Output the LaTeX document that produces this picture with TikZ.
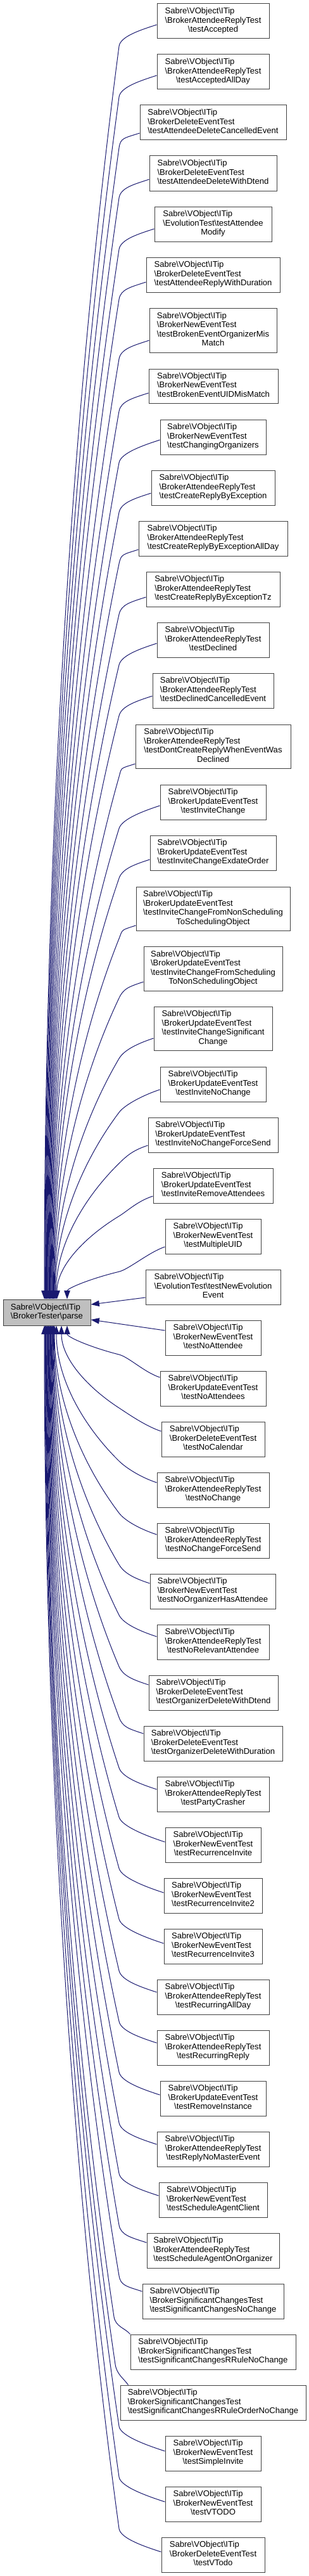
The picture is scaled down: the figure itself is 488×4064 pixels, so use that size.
\documentclass[tikz,border=0pt]{standalone}
\usepackage{fontspec}
\setmainfont{Liberation Sans}
\usetikzlibrary{arrows.meta,calc}
\definecolor{edgeblue}{HTML}{191970}
\definecolor{boxline}{HTML}{404040}
\definecolor{rootfill}{HTML}{BFBFBF}
\newcommand\bs{\textbackslash}
\newcommand\sv{Sabre\bs VObject\bs ITip}
\newcommand\tb[2]{\begin{tabular}{@{}l@{}}#1\\\multicolumn{1}{@{}c@{}}{#2}\end{tabular}}
\newcommand\cn[8][]{%
 \pgfmathsetmacro\cnX{(#3+#5)/2}%
 \pgfmathsetmacro\cnY{(#4+#6)/2}%
 \pgfmathsetmacro\cnW{(#5-#3)*0.75}%
 \pgfmathsetmacro\cnH{(#6-#4)*0.75}%
 \node[cbox,minimum width=\cnW pt,minimum height=\cnH pt,#1] (#2) at (\cnX,\cnY) {\tb{#7}{#8}};}
\newcommand\edgecore[8]{%
 \pgfmathsetmacro\eAx{#4+(#6-#4)*0.55}%
 \pgfmathsetmacro\eAy{#5+(#7-#5)*0.25}%
 \pgfmathsetmacro\eBy{#7-(#7-#5)*0.4}%
 \draw[calledge] #1 .. controls (#2,#3) and ($(#4,#5)!-12pt!(\eAx,\eAy)$) .. (#4,#5) .. controls (\eAx,\eAy) and (#6,\eBy) .. (#6,0 |- parse.#8);}
\newcommand\up[4]{%
 \pgfmathsetmacro\uBy{#3+10+(#2-188)*0.4}%
 \pgfmathsetmacro\uCx{#2-25}\pgfmathsetmacro\uCy{#3+8}%
 \edgecore{(#1.west |- 0,#3)}{\uCx}{\uCy}{188}{\uBy}{#4}{2050}{north}}
\newcommand\dn[4]{%
 \pgfmathsetmacro\uBy{#3-10-(#2-188)*0.4}%
 \pgfmathsetmacro\uCx{#2-25}\pgfmathsetmacro\uCy{#3-8}%
 \edgecore{(#1.west |- 0,#3)}{\uCx}{\uCy}{188}{\uBy}{#4}{2091}{south}}
\begin{document}
\begin{tikzpicture}[x=0.75pt,y=-0.75pt,
 cbox/.style={draw=boxline,line width=0.75pt,fill=white,inner sep=0pt,font=\fontsize{9.8}{10.9}\selectfont},
 calledge/.style={draw=edgeblue,line width=0.75pt,-{Triangle[length=10pt,width=7pt]}}]
\fill[white] (0,0) rectangle (488,4064);
\useasboundingbox (0,0) rectangle (488,4064);
\cn{n1}{248}{6}{425}{61}{\sv\\\bs BrokerAttendeeReplyTest}{\bs testAccepted}
\cn{n2}{248}{86}{425}{141}{\sv\\\bs BrokerAttendeeReplyTest}{\bs testAcceptedAllDay}
\cn{n3}{221}{166}{452}{221}{\sv\\\bs BrokerDeleteEventTest}{\bs testAttendeeDeleteCancelledEvent}
\cn{n4}{236}{246}{437}{301}{\sv\\\bs BrokerDeleteEventTest}{\bs testAttendeeDeleteWithDtend}
\cn{n5}{244}{326}{429}{381}{\sv\\\bs EvolutionTest\bs testAttendee}{Modify}
\cn{n6}{231}{406}{442}{461}{\sv\\\bs BrokerDeleteEventTest}{\bs testAttendeeReplyWithDuration}
\cn{n7}{236}{486}{437}{556}{\sv\\\bs BrokerNewEventTest\\\bs testBrokenEventOrganizerMis}{Match}
\cn{n8}{235}{582}{439}{636}{\sv\\\bs BrokerNewEventTest}{\bs testBrokenEventUIDMisMatch}
\cn{n9}{253}{662}{420}{717}{\sv\\\bs BrokerNewEventTest}{\bs testChangingOrganizers}
\cn{n10}{239}{742}{434}{797}{\sv\\\bs BrokerAttendeeReplyTest}{\bs testCreateReplyByException}
\cn{n11}{219}{822}{454}{877}{\sv\\\bs BrokerAttendeeReplyTest}{\bs testCreateReplyByExceptionAllDay}
\cn{n12}{231}{902}{442}{957}{\sv\\\bs BrokerAttendeeReplyTest}{\bs testCreateReplyByExceptionTz}
\cn{n13}{248}{982}{425}{1037}{\sv\\\bs BrokerAttendeeReplyTest}{\bs testDeclined}
\cn{n14}{241}{1062}{432}{1117}{\sv\\\bs BrokerAttendeeReplyTest}{\bs testDeclinedCancelledEvent}
\cn{n15}{214}{1143}{459}{1212}{\sv\\\bs BrokerAttendeeReplyTest\\\bs testDontCreateReplyWhenEventWas}{Declined}
\cn{n16}{253}{1238}{420}{1293}{\sv\\\bs BrokerUpdateEventTest}{\bs testInviteChange}
\cn{n17}{237}{1318}{436}{1373}{\sv\\\bs BrokerUpdateEventTest}{\bs testInviteChangeExdateOrder}
\cn{n18}{215}{1399}{458}{1468}{\sv\\\bs BrokerUpdateEventTest\\\bs testInviteChangeFromNonScheduling}{ToSchedulingObject}
\cn{n19}{227}{1493}{446}{1563}{\sv\\\bs BrokerUpdateEventTest\\\bs testInviteChangeFromScheduling}{ToNonSchedulingObject}
\cn{n20}{243}{1588}{430}{1657}{\sv\\\bs BrokerUpdateEventTest\\\bs testInviteChangeSignificant}{Change}
\cn{n21}{253}{1683}{420}{1738}{\sv\\\bs BrokerUpdateEventTest}{\bs testInviteNoChange}
\cn{n22}{234}{1763}{439}{1818}{\sv\\\bs BrokerUpdateEventTest}{\bs testInviteNoChangeForceSend}
\cn{n23}{242}{1843}{431}{1898}{\sv\\\bs BrokerUpdateEventTest}{\bs testInviteRemoveAttendees}
\cn{n24}{261}{1923}{412}{1978}{\sv\\\bs BrokerNewEventTest}{\bs testMultipleUID}
\cn{n25}{230}{2003}{443}{2058}{\sv\\\bs EvolutionTest\bs testNewEvolution}{Event}
\cn[fill=rootfill]{parse}{5}{2050}{143}{2091}{\sv}{\bs BrokerTester\bs parse}
\cn{n26}{261}{2083}{412}{2138}{\sv\\\bs BrokerNewEventTest}{\bs testNoAttendee}
\cn{n27}{253}{2163}{420}{2218}{\sv\\\bs BrokerUpdateEventTest}{\bs testNoAttendees}
\cn{n28}{255}{2243}{418}{2298}{\sv\\\bs BrokerDeleteEventTest}{\bs testNoCalendar}
\cn{n29}{248}{2323}{425}{2378}{\sv\\\bs BrokerAttendeeReplyTest}{\bs testNoChange}
\cn{n30}{248}{2403}{425}{2458}{\sv\\\bs BrokerAttendeeReplyTest}{\bs testNoChangeForceSend}
\cn{n31}{237}{2483}{435}{2538}{\sv\\\bs BrokerNewEventTest}{\bs testNoOrganizerHasAttendee}
\cn{n32}{248}{2563}{425}{2618}{\sv\\\bs BrokerAttendeeReplyTest}{\bs testNoRelevantAttendee}
\cn{n33}{235}{2643}{439}{2698}{\sv\\\bs BrokerDeleteEventTest}{\bs testOrganizerDeleteWithDtend}
\cn{n34}{227}{2723}{446}{2778}{\sv\\\bs BrokerDeleteEventTest}{\bs testOrganizerDeleteWithDuration}
\cn{n35}{248}{2803}{425}{2858}{\sv\\\bs BrokerAttendeeReplyTest}{\bs testPartyCrasher}
\cn{n36}{261}{2883}{412}{2938}{\sv\\\bs BrokerNewEventTest}{\bs testRecurrenceInvite}
\cn{n37}{259}{2963}{414}{3018}{\sv\\\bs BrokerNewEventTest}{\bs testRecurrenceInvite2}
\cn{n38}{259}{3043}{414}{3098}{\sv\\\bs BrokerNewEventTest}{\bs testRecurrenceInvite3}
\cn{n39}{248}{3123}{425}{3178}{\sv\\\bs BrokerAttendeeReplyTest}{\bs testRecurringAllDay}
\cn{n40}{248}{3203}{425}{3258}{\sv\\\bs BrokerAttendeeReplyTest}{\bs testRecurringReply}
\cn{n41}{253}{3283}{420}{3338}{\sv\\\bs BrokerUpdateEventTest}{\bs testRemoveInstance}
\cn{n42}{248}{3363}{425}{3418}{\sv\\\bs BrokerAttendeeReplyTest}{\bs testReplyNoMasterEvent}
\cn{n43}{251}{3443}{422}{3498}{\sv\\\bs BrokerNewEventTest}{\bs testScheduleAgentClient}
\cn{n44}{232}{3523}{441}{3578}{\sv\\\bs BrokerAttendeeReplyTest}{\bs testScheduleAgentOnOrganizer}
\cn{n45}{225}{3603}{448}{3658}{\sv\\\bs BrokerSignificantChangesTest}{\bs testSignificantChangesNoChange}
\cn{n46}{206}{3683}{467}{3738}{\sv\\\bs BrokerSignificantChangesTest}{\bs testSignificantChangesRRuleNoChange}
\cn{n47}{190}{3763}{483}{3818}{\sv\\\bs BrokerSignificantChangesTest}{\bs testSignificantChangesRRuleOrderNoChange}
\cn{n48}{261}{3843}{412}{3898}{\sv\\\bs BrokerNewEventTest}{\bs testSimpleInvite}
\cn{n49}{261}{3923}{412}{3978}{\sv\\\bs BrokerNewEventTest}{\bs testVTODO}
\cn{n50}{255}{4003}{418}{4058}{\sv\\\bs BrokerDeleteEventTest}{\bs testVTodo}
% edges from callers above
\up{n1}{248}{39}{70}
\up{n2}{248}{119}{70.85}
\up{n3}{221}{210}{71.7}
\up{n4}{236}{283}{72.55}
\up{n5}{244}{361}{73.4}
\up{n6}{231}{445}{74.25}
\up{n7}{236}{537}{75.1}
\up{n8}{235}{620}{75.95}
\up{n9}{253}{694}{76.8}
\up{n10}{239}{778}{77.65}
\up{n11}{219}{867}{78.5}
\up{n12}{231}{942}{79.35}
\up{n13}{248}{1015}{80.2}
\up{n14}{241}{1098}{81.05}
\up{n15}{214}{1205}{81.9}
\up{n16}{253}{1271}{82.75}
\up{n17}{237}{1356}{83.6}
\up{n18}{215}{1460}{84.45}
\up{n19}{227}{1549}{85.3}
\up{n20}{243}{1638}{86.15}
\up{n21}{253}{1719}{87}
\up{n22}{234}{1807}{88.5}
\up{n23}{242}{1887}{90}
\up{n24}{261}{1967}{106}
\draw[calledge] (n25.west |- 0,2047) -- (parse.east |- 0,2058);
\draw[calledge] (n26.west |- 0,2099) -- (parse.east |- 0,2082);
% edges from callers below
\dn{n27}{253}{2173}{106}
\dn{n28}{255}{2258}{97}
\dn{n29}{248}{2339}{89}
\dn{n30}{248}{2421}{86}
\dn{n31}{237}{2498}{85.2}
\dn{n32}{248}{2582}{84.4}
\dn{n33}{235}{2658}{83.6}
\dn{n34}{227}{2735}{82.8}
\dn{n35}{248}{2823}{82}
\dn{n36}{261}{2906}{81.2}
\dn{n37}{259}{2986}{80.4}
\dn{n38}{259}{3066}{79.6}
\dn{n39}{248}{3143}{78.8}
\dn{n40}{248}{3223}{78}
\dn{n41}{253}{3305}{77.2}
\dn{n42}{248}{3383}{76.4}
\dn{n43}{251}{3464}{75.6}
\dn{n44}{232}{3538}{74.8}
\dn{n45}{225}{3615}{74}
\edgecore{(n46.north west)}{198}{3673}{180}{3655}{73.2}{2091}{south}
\edgecore{($(n47.north west)+(13,0)$)}{195}{3752}{182}{3730}{72.4}{2091}{south}
\dn{n48}{261}{3867}{71.6}
\dn{n49}{261}{3947}{70.8}
\dn{n50}{255}{4026}{70}
\end{tikzpicture}
\end{document}
